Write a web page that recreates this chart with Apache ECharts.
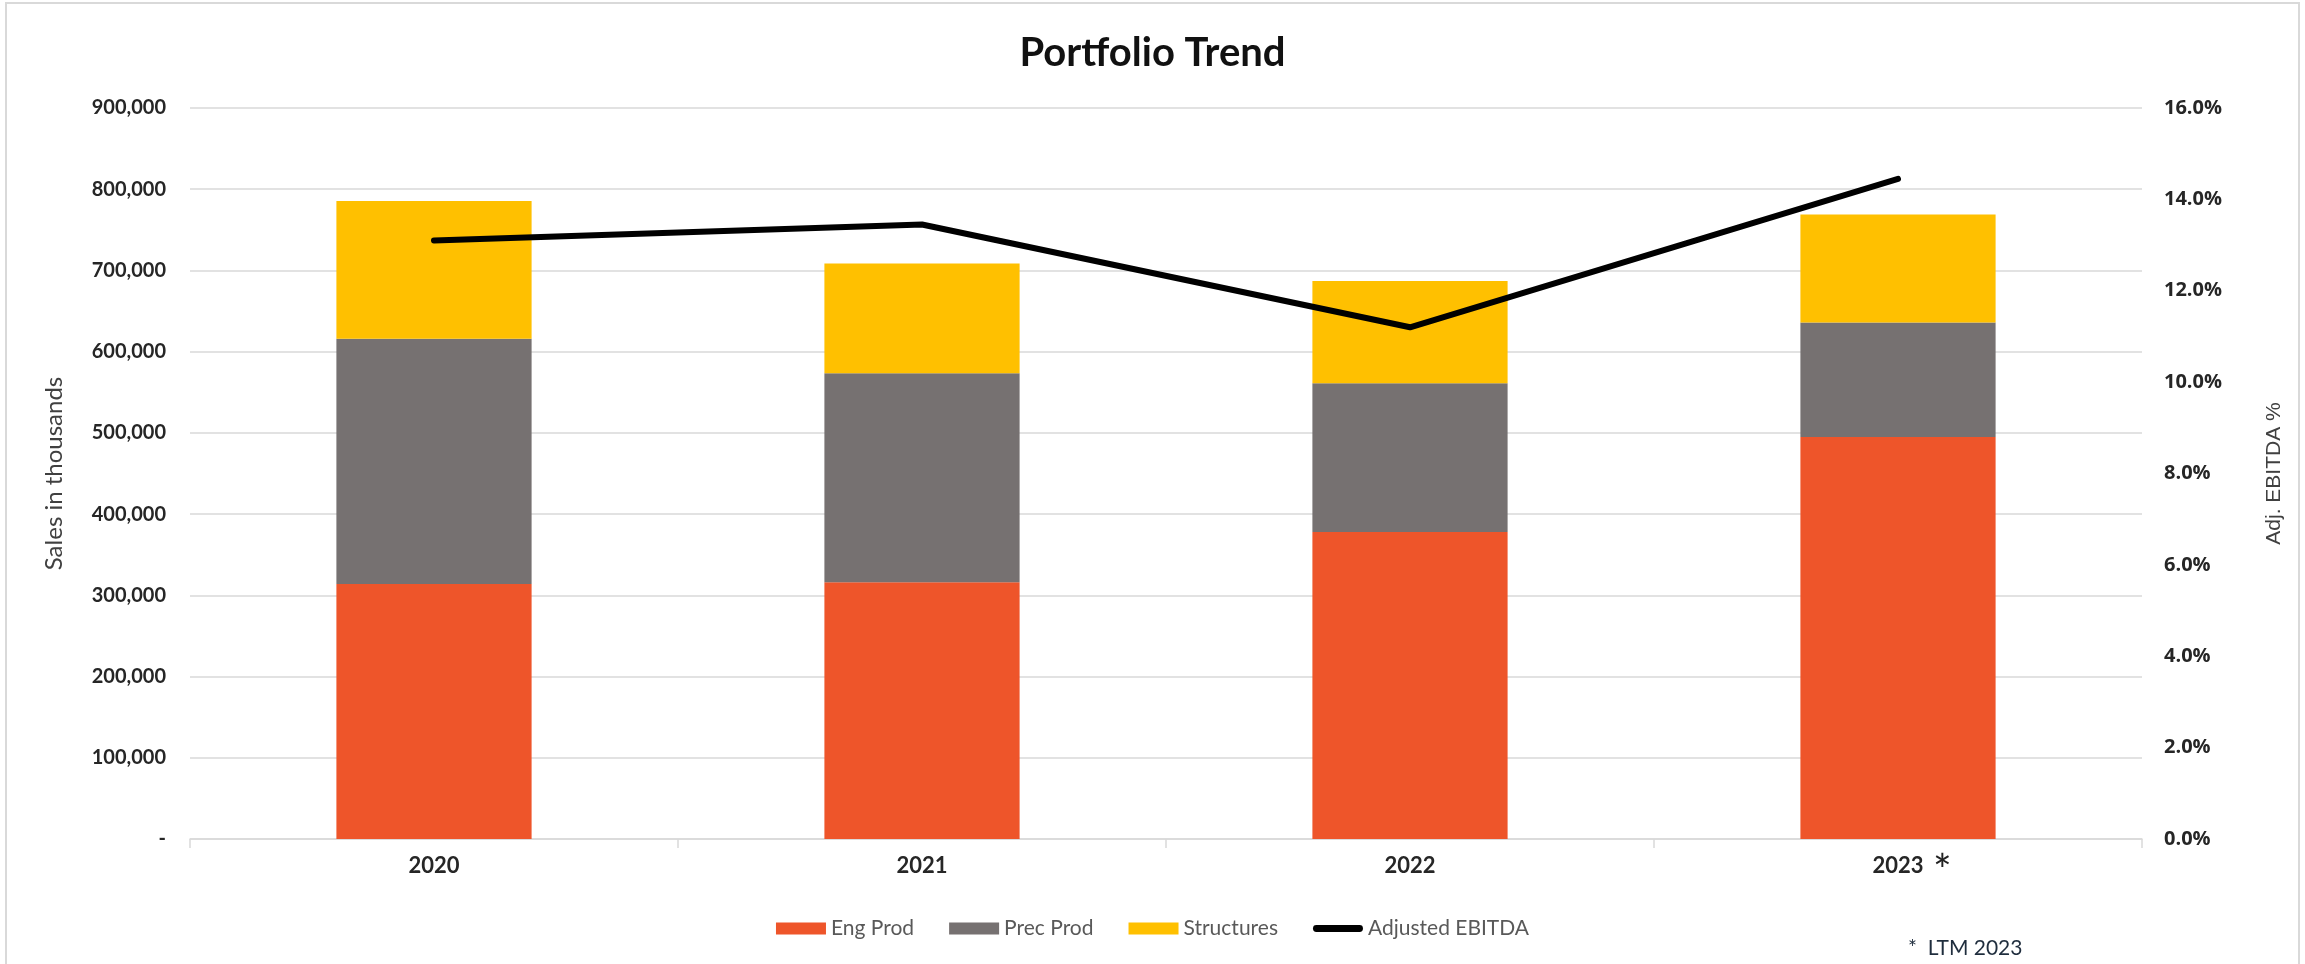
<!DOCTYPE html>
<html>
<head>
<meta charset="utf-8">
<script src="https://cdn.jsdelivr.net/npm/echarts@6/dist/echarts.min.js"></script>
<style>
html,body{margin:0;padding:0;background:#fff;}
#c{width:2305px;height:964px;}
</style>
</head>
<body>
<div id="c"></div>
<script>
const categories = ['2020', '2021', '2022', '2023'];
const engProd = [314000, 316000, 378000, 495000];
const precProd = [302000, 257500, 183000, 141000];
const structures = [169500, 135000, 126000, 133000];
const adjEbitda = [13.1, 13.45, 11.2, 14.45];
const leftTicks = { min: 0, max: 900000, interval: 100000 };
const rightTicks = { min: 0, max: 16, interval: 2 };

const chart = echarts.init(document.getElementById('c'));
const gridColor = '#d9d9d9';
const tickFont = { fontFamily: 'Lato', fontWeight: 'bold', fontSize: 20, color: '#262626' };

chart.setOption({
  backgroundColor: '#fff',
  animation: false,
  title: {
    text: 'Portfolio Trend',
    left: 'center',
    top: 28,
    textStyle: { fontFamily: 'Lato', fontWeight: 'bold', fontSize: 40, color: '#111' }
  },
  grid: { left: 190, right: 163, top: 108, bottom: 125, containLabel: false },
  legend: {
    bottom: 20,
    left: 'center',
    itemWidth: 50,
    itemHeight: 12,
    itemGap: 35,
    textStyle: { fontFamily: 'Lato', fontSize: 21, color: '#595959' },
    data: [
      { name: 'Eng Prod', icon: 'rect' },
      { name: 'Prec Prod', icon: 'rect' },
      { name: 'Structures', icon: 'rect' },
      { name: 'Adjusted EBITDA', icon: 'path://M3,0 L47,0 A3,3 0 0 1 47,7 L3,7 A3,3 0 0 1 3,0 Z', itemStyle: { color: '#000' } }
    ]
  },
  xAxis: {
    type: 'category',
    data: categories,
    boundaryGap: true,
    axisLine: { lineStyle: { color: gridColor, width: 1.5 } },
    axisTick: { show: true, length: 9, lineStyle: { color: gridColor, width: 1.5 } },
    axisLabel: Object.assign({}, tickFont, { margin: 16, fontSize: 22 })
  },
  yAxis: [
    {
      type: 'value',
      min: leftTicks.min, max: leftTicks.max, interval: leftTicks.interval,
      name: 'Sales in thousands',
      nameLocation: 'middle',
      nameGap: 124,
      nameRotate: 90,
      nameTextStyle: { fontFamily: 'Lato', fontSize: 24, color: '#404040' },
      axisLine: { show: false },
      axisTick: { show: false },
      splitLine: { lineStyle: { color: gridColor, width: 1.5 } },
      axisLabel: Object.assign({}, tickFont, {
        margin: 24,
        formatter: v => v === 0 ? '-' : v.toLocaleString('en-US')
      })
    },
    {
      type: 'value',
      position: 'right',
      min: rightTicks.min, max: rightTicks.max, interval: rightTicks.interval,
      name: 'Adj. EBITDA %',
      nameLocation: 'middle',
      nameGap: 122,
      nameRotate: 90,
      nameTextStyle: { fontFamily: 'Liberation Sans', fontSize: 21, color: '#404040' },
      axisLine: { show: false },
      axisTick: { show: false },
      splitLine: { show: false },
      axisLabel: Object.assign({}, tickFont, {
        fontFamily: 'Open Sans',
        fontSize: 20,
        margin: 22,
        formatter: v => v.toFixed(1) + '%'
      })
    }
  ],
  series: [
    { name: 'Eng Prod', type: 'bar', stack: 's', barWidth: '40%', data: engProd, itemStyle: { color: '#EE552A' } },
    { name: 'Prec Prod', type: 'bar', stack: 's', data: precProd, itemStyle: { color: '#767171' } },
    { name: 'Structures', type: 'bar', stack: 's', data: structures, itemStyle: { color: '#FFC000' } },
    {
      name: 'Adjusted EBITDA', type: 'line', yAxisIndex: 1, data: adjEbitda,
      symbol: 'none', showSymbol: false, z: 5,
      lineStyle: { color: '#000', width: 6, cap: 'round', join: 'round' },
      itemStyle: { color: '#000' }
    }
  ],
  graphic: [
    {
      type: 'rect', silent: true, z: -1,
      shape: { x: 6, y: 3, width: 2293, height: 1000 },
      style: { fill: 'none', stroke: '#d9d9d9', lineWidth: 2 }
    },
    {
      type: 'text', left: 1933, top: 850,
      style: { text: '*', font: '44px Lato', fill: '#222' }
    },
    {
      type: 'text', left: 1908, top: 938,
      style: { text: '*  LTM 2023', font: '21px Lato', fill: '#1f2d3d' }
    }
  ]
});
</script>
</body>
</html>
